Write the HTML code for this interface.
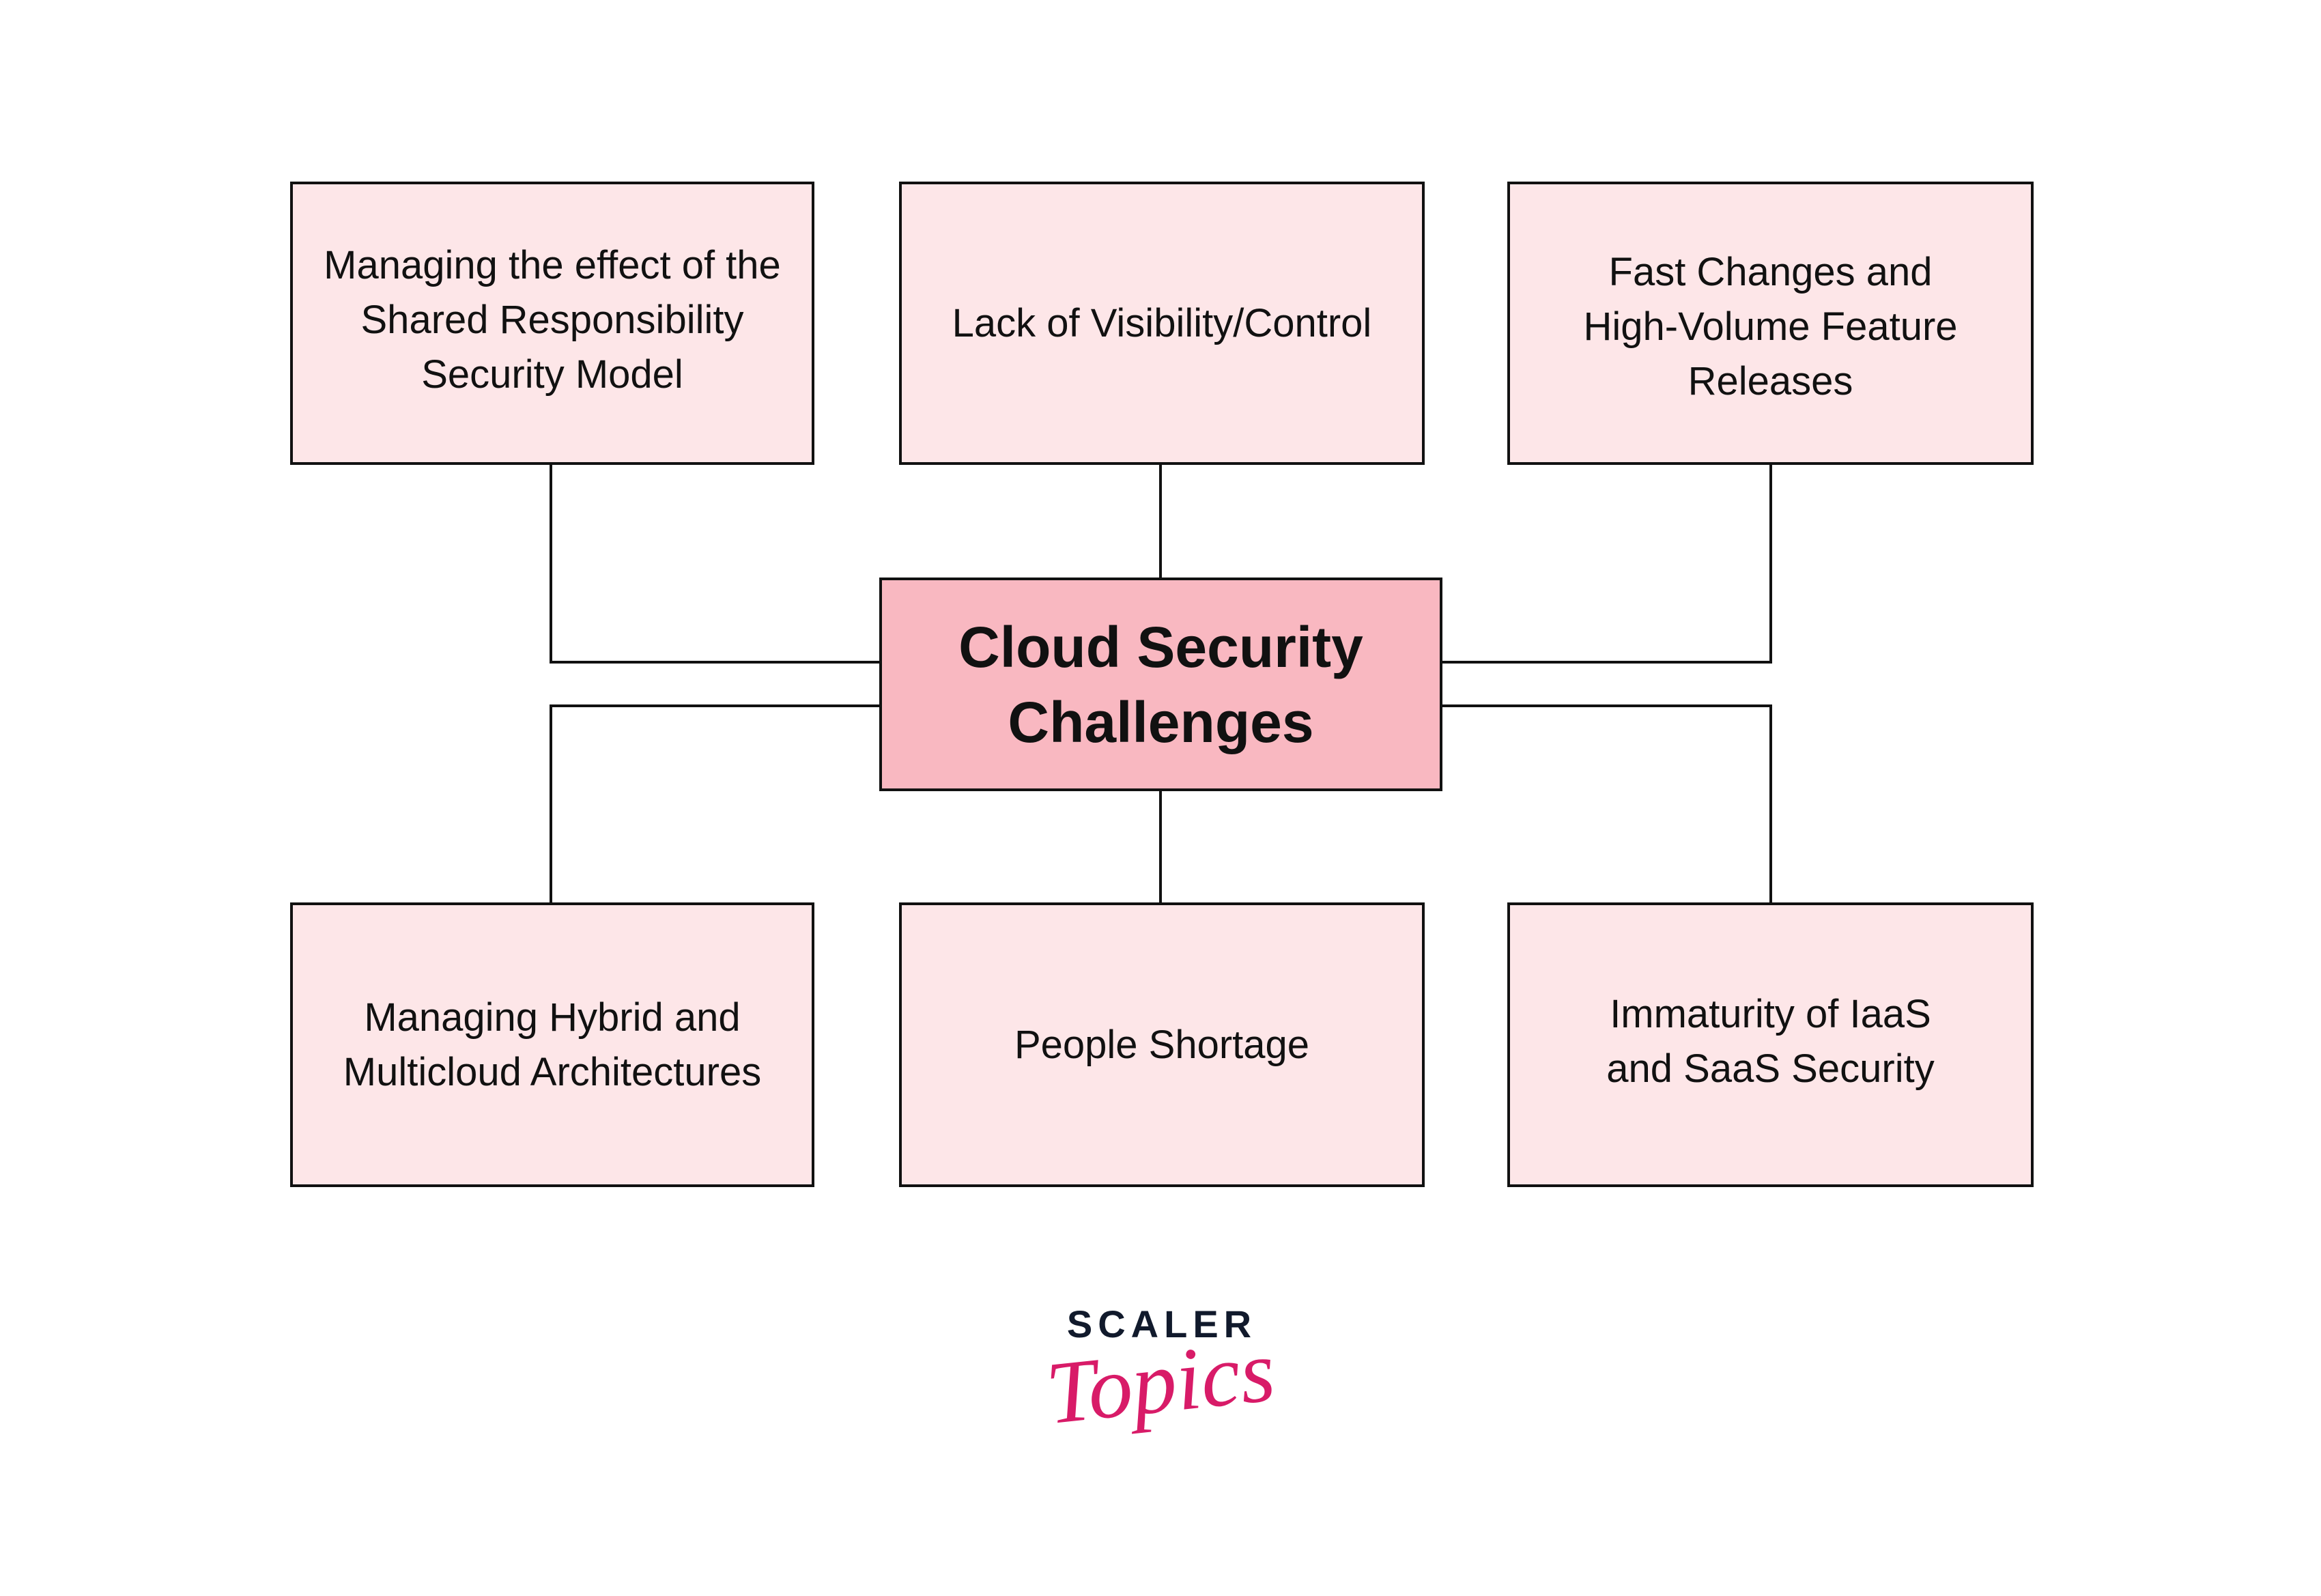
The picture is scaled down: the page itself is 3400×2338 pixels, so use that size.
<!DOCTYPE html>
<html><head><meta charset="utf-8"><style>
html,body{margin:0;padding:0;background:#fff;}
body{width:3400px;height:2338px;position:relative;overflow:hidden;font-family:"Liberation Sans",sans-serif;}
.b{position:absolute;box-sizing:border-box;border:4px solid #111;background:#fde6e8;display:flex;align-items:center;justify-content:center;text-align:center;font-size:58px;line-height:80px;color:#111;}
.c{background:#f9b8c1;font-weight:bold;font-size:84px;line-height:110px;}
.l{position:absolute;background:#111;}
</style></head><body>
<div class="l" style="left:805px;top:678px;width:4px;height:294px"></div>
<div class="l" style="left:805px;top:968px;width:485px;height:4px"></div>
<div class="l" style="left:1698px;top:678px;width:4px;height:170px"></div>
<div class="l" style="left:2592px;top:678px;width:4px;height:294px"></div>
<div class="l" style="left:2111px;top:968px;width:485px;height:4px"></div>
<div class="l" style="left:805px;top:1032px;width:4px;height:292px"></div>
<div class="l" style="left:805px;top:1032px;width:485px;height:4px"></div>
<div class="l" style="left:1698px;top:1155px;width:4px;height:169px"></div>
<div class="l" style="left:2592px;top:1032px;width:4px;height:292px"></div>
<div class="l" style="left:2111px;top:1032px;width:485px;height:4px"></div>

<div class="b" style="left:425px;top:266px;width:768px;height:415px"><div style="margin-top:-10px">Managing the effect of the<br>Shared Responsibility<br>Security Model</div></div>
<div class="b" style="left:1317px;top:266px;width:770px;height:415px">Lack of Visibility/Control</div>
<div class="b" style="left:2208px;top:266px;width:771px;height:415px"><div style="margin-top:10px">Fast Changes and<br>High-Volume Feature<br>Releases</div></div>
<div class="b c" style="left:1288px;top:846px;width:825px;height:313px">Cloud Security<br>Challenges</div>
<div class="b" style="left:425px;top:1322px;width:768px;height:417px">Managing Hybrid and<br>Multicloud Architectures</div>
<div class="b" style="left:1317px;top:1322px;width:770px;height:417px">People Shortage</div>
<div class="b" style="left:2208px;top:1322px;width:771px;height:417px"><div style="margin-top:-10px">Immaturity of IaaS<br>and SaaS Security</div></div>

<div style="position:absolute;left:1492px;top:1910px;width:420px;text-align:center;font-weight:bold;font-size:56px;letter-spacing:8px;color:#111a2c;line-height:60px">SCALER</div>
<div style="position:absolute;left:1530px;top:1955px;width:340px;text-align:center;font-family:'Liberation Serif',serif;font-style:italic;font-size:130px;color:#d81b68;line-height:140px;transform:rotate(-6deg)">Topics</div>
</body></html>
